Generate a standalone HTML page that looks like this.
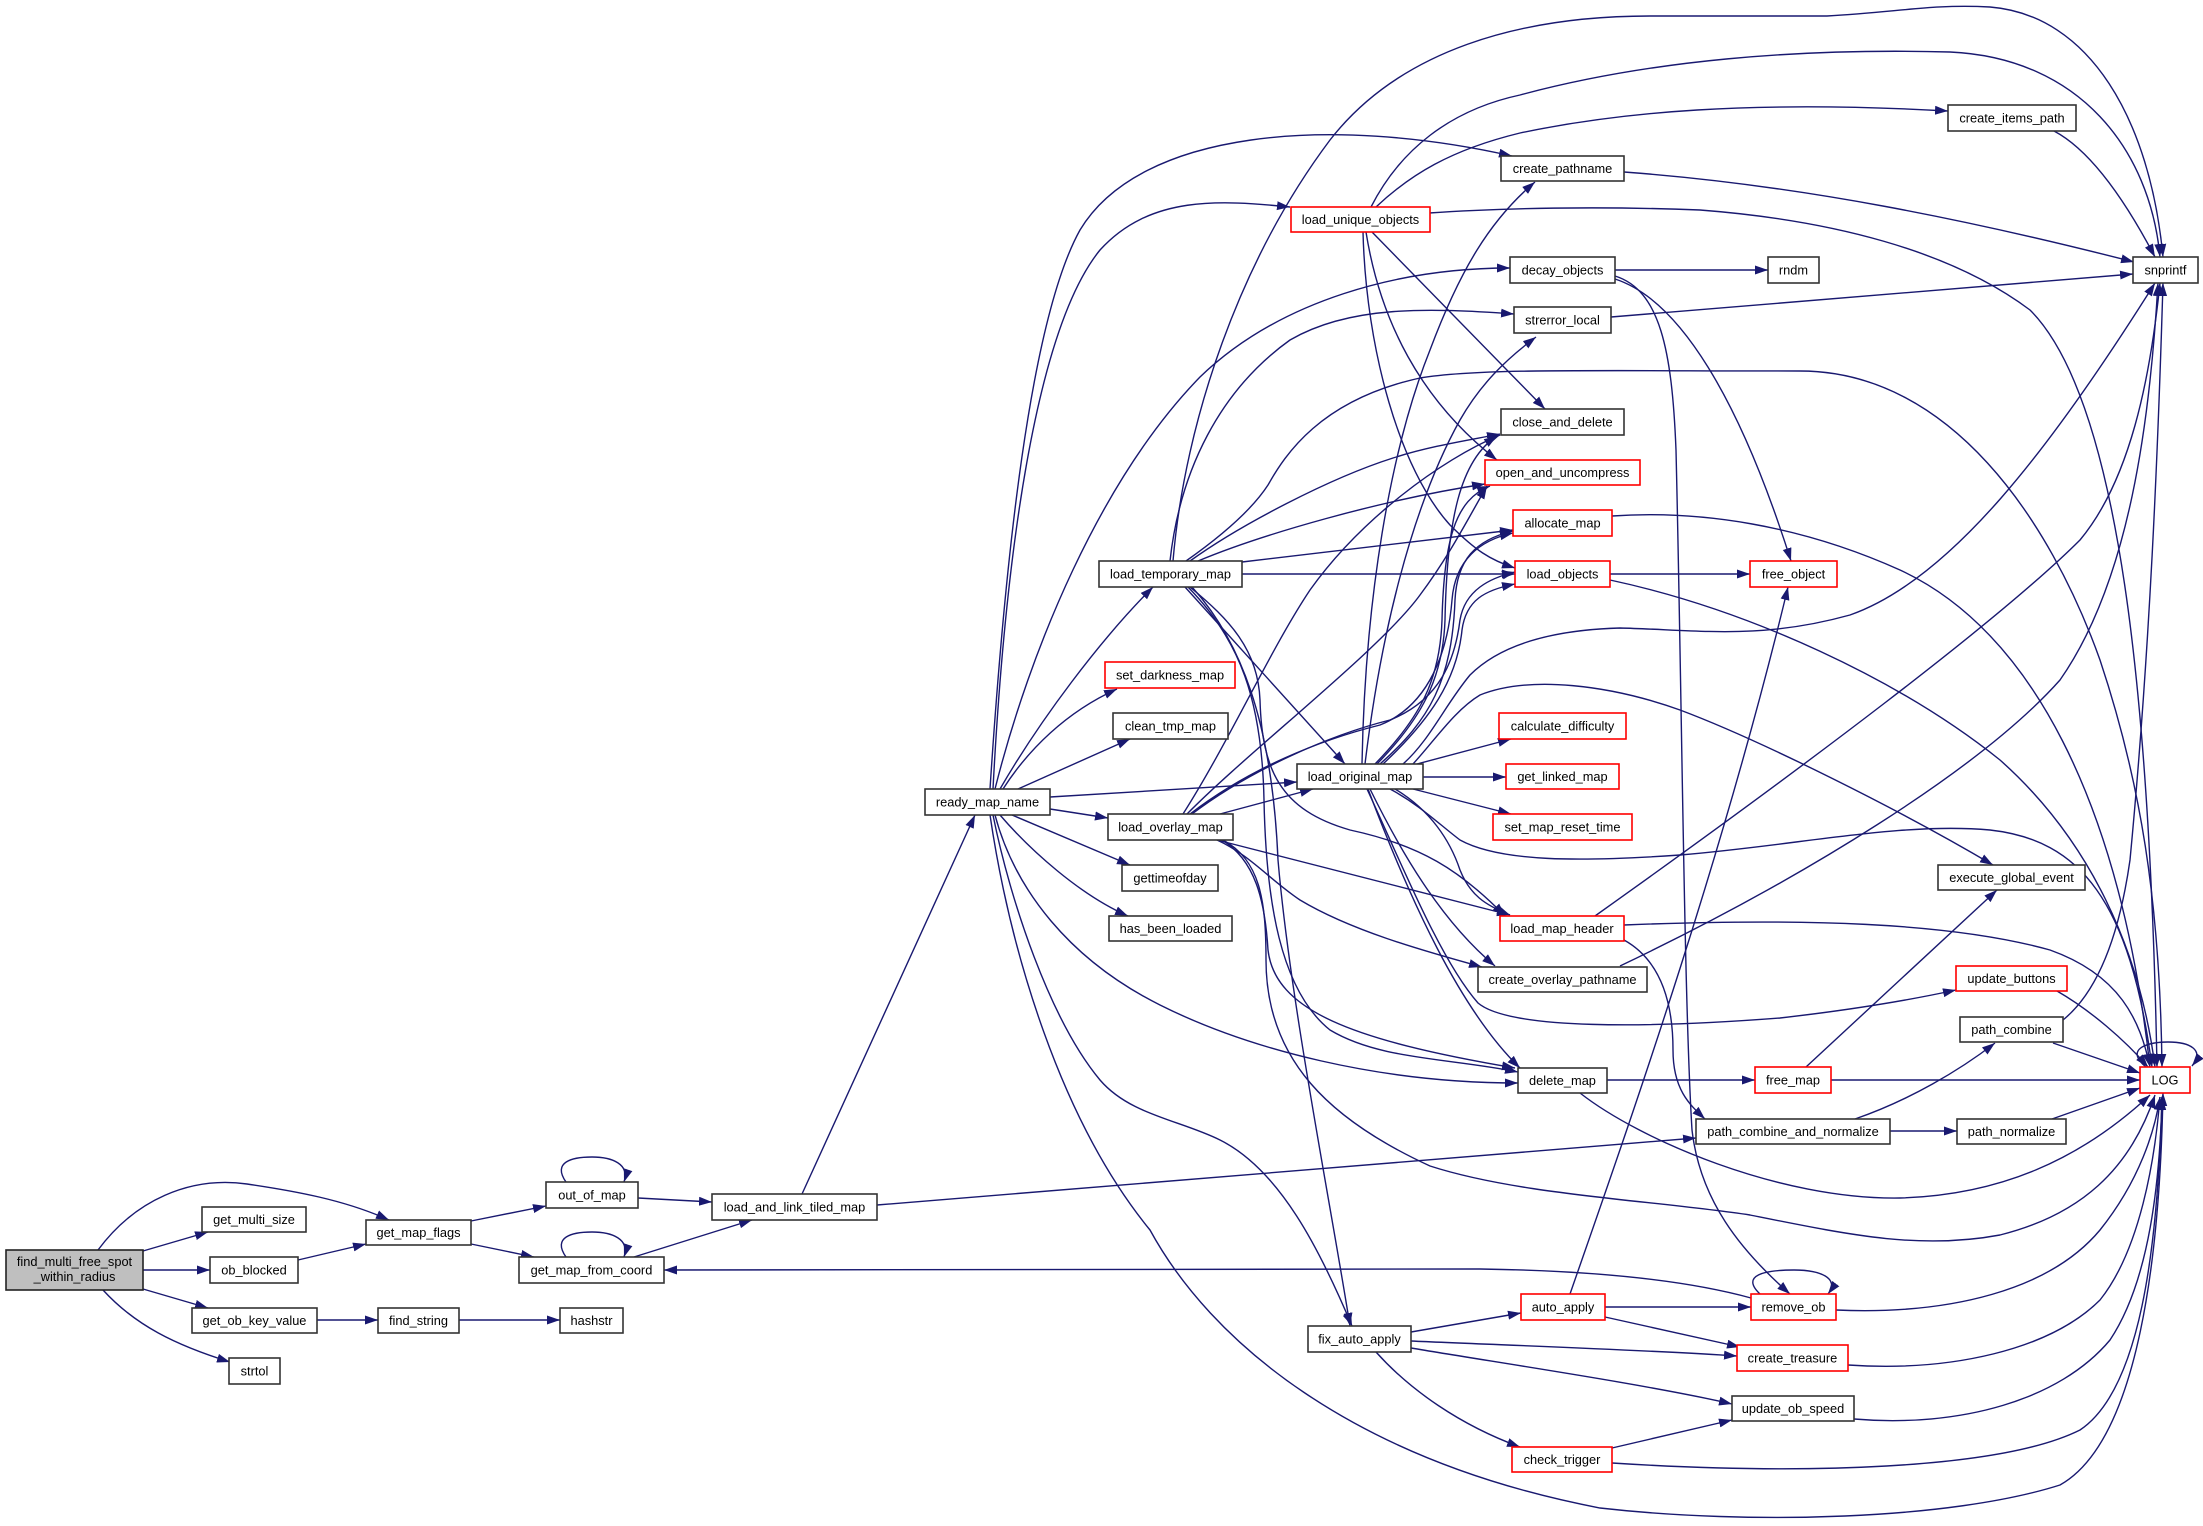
<!DOCTYPE html>
<html><head><meta charset="utf-8"><style>
html,body{margin:0;padding:0;background:#fff;}
svg{display:block;}
.e path{fill:none;stroke:#191970;stroke-width:1.4;marker-end:url(#a);}
.n rect{fill:#fff;stroke:#333;stroke-width:1.6;}
.n rect.r{stroke:#ff0000;}
.n rect.g{fill:#bfbfbf;stroke:#222;}
.n text{font-family:"Liberation Sans",Arial,sans-serif;font-size:12.8px;fill:#000;text-anchor:middle;}
</style></head><body>
<svg width="2203" height="1526" viewBox="0 0 2203 1526" xmlns="http://www.w3.org/2000/svg">
<defs><marker id="a" markerUnits="userSpaceOnUse" markerWidth="14" markerHeight="10" refX="13" refY="5" orient="auto"><path d="M0,0.5 L13,5 L0,9.5z" fill="#191970"/></marker></defs>
<rect width="2203" height="1526" fill="#fff"/>
<g class="e">
<path d="M98,1250 C135,1200 190,1176 247,1184 C295,1191 345,1200 389,1220"/>
<path d="M143,1251 L208,1232"/>
<path d="M143,1270 L210,1270"/>
<path d="M143,1289 L208,1308"/>
<path d="M103,1290 C135,1325 175,1345 230,1362"/>
<path d="M298,1260 L366,1244"/>
<path d="M317,1320 L378,1320"/>
<path d="M459,1320 L560,1320"/>
<path d="M471,1221 L546,1206"/>
<path d="M471,1244 L534,1257"/>
<path d="M566,1182 C552,1162 572,1157 592,1157 C612,1157 630,1164 624,1182"/>
<path d="M566,1257 C552,1237 572,1232 592,1232 C612,1232 630,1239 624,1257"/>
<path d="M638,1198 L712,1202"/>
<path d="M634,1257 L752,1220"/>
<path d="M802,1194 L975,815"/>
<path d="M877,1205 L1696,1138"/>
<path d="M1751,1298 C1700,1284 1620,1271 1480,1269 L664,1270"/>

<path d="M990,789 C1005,560 1030,320 1080,230 C1140,130 1330,115 1512,156"/>
<path d="M993,789 C1005,560 1035,330 1100,250 C1150,195 1220,200 1290,207"/>
<path d="M995,789 C1030,650 1100,480 1200,377 C1280,300 1400,268 1510,268"/>
<path d="M1000,789 C1040,720 1100,640 1153,587"/>
<path d="M1003,789 C1028,750 1066,712 1117,689"/>
<path d="M1018,789 L1130,739"/>
<path d="M1050,797 L1297,782"/>
<path d="M1050,809 L1108,818"/>
<path d="M1012,815 L1130,865"/>
<path d="M1000,815 C1030,850 1080,895 1128,916"/>
<path d="M995,815 C1015,890 1070,960 1160,1005 C1250,1050 1380,1083 1518,1083"/>
<path d="M993,815 C1010,900 1050,1020 1100,1080 C1130,1115 1180,1120 1220,1140 C1280,1170 1320,1250 1352,1326"/>
<path d="M990,815 C1010,950 1060,1120 1150,1230 C1210,1340 1350,1460 1600,1508 C1750,1525 1950,1520 2060,1485 C2140,1440 2160,1250 2163,1093"/>

<path d="M1173,561 C1185,420 1240,260 1330,140 C1400,50 1520,16 1650,16 L1827,16 C1900,12 1930,4 1990,7 C2090,15 2150,120 2163,257"/>
<path d="M1170,561 C1180,470 1220,390 1290,340 C1350,305 1430,308 1514,314"/>
<path d="M1186,561 C1230,530 1255,505 1268,485 C1285,455 1320,400 1420,378 C1480,368 1600,371 1800,371 C1950,371 2050,520 2100,660 C2140,780 2160,900 2162,1067"/>
<path d="M1190,561 C1240,525 1330,478 1393,458 C1430,446 1470,440 1500,434"/>
<path d="M1198,561 C1260,535 1380,500 1485,484"/>
<path d="M1242,562 L1513,530"/>
<path d="M1242,574 L1515,574"/>
<path d="M1185,587 L1345,764"/>
<path d="M1190,587 C1230,620 1258,650 1260,700 C1262,770 1280,810 1350,830 C1420,845 1460,870 1505,916"/>
<path d="M1188,587 C1240,640 1262,700 1264,800 C1266,900 1280,990 1330,1030 C1380,1060 1450,1058 1518,1072"/>
<path d="M1192,587 C1240,640 1272,720 1278,860 C1290,1000 1330,1200 1350,1326"/>

<path d="M1220,814 L1313,789"/>
<path d="M1183,814 C1230,740 1270,650 1310,590 C1360,520 1440,460 1500,435"/>
<path d="M1187,814 C1250,750 1380,650 1420,595 C1450,555 1470,515 1487,486"/>
<path d="M1192,814 C1250,770 1330,735 1390,720 C1440,700 1455,660 1460,620 C1465,590 1490,578 1515,572"/>
<path d="M1190,814 C1250,768 1320,740 1380,725 C1430,705 1448,650 1452,600 C1455,560 1480,540 1513,533"/>
<path d="M1217,840 L1510,915"/>
<path d="M1217,840 C1250,855 1270,880 1300,900 C1350,930 1420,950 1482,967"/>
<path d="M1222,840 C1255,860 1265,900 1268,950 C1275,1010 1350,1040 1515,1068"/>
<path d="M1223,840 C1260,860 1266,900 1266,960 C1266,1060 1330,1120 1430,1166 C1520,1195 1650,1200 1750,1215 C1850,1235 1920,1250 2000,1235 C2080,1215 2130,1170 2155,1095"/>

<path d="M1362,764 C1365,600 1390,450 1430,350 C1460,270 1490,220 1535,182"/>
<path d="M1365,764 C1380,640 1410,510 1460,420 C1480,385 1505,360 1536,337"/>
<path d="M1377,764 C1420,720 1443,680 1445,620 C1447,520 1460,460 1497,436"/>
<path d="M1375,764 C1420,718 1440,680 1442,620 C1444,540 1455,500 1490,486"/>
<path d="M1380,764 C1430,720 1452,680 1455,600 C1457,560 1475,540 1513,531"/>
<path d="M1383,764 C1430,720 1457,680 1462,630 C1466,600 1485,590 1515,584"/>
<path d="M1403,764 C1430,740 1445,705 1470,675 C1500,645 1550,630 1620,628 C1700,630 1760,640 1850,615 C1950,580 2050,450 2155,283"/>
<path d="M1413,764 C1435,740 1455,710 1480,695 C1530,675 1610,685 1680,710 C1760,740 1900,810 1993,865"/>
<path d="M1417,764 L1511,739"/>
<path d="M1423,777 L1506,777"/>
<path d="M1413,789 L1511,814"/>
<path d="M1390,789 C1420,805 1440,825 1460,840 C1500,862 1580,862 1680,855 C1800,845 1900,822 1990,830 C2080,840 2130,900 2152,1067"/>
<path d="M1395,789 C1430,810 1450,840 1460,870 C1470,895 1485,905 1510,915"/>
<path d="M1370,789 C1400,850 1440,920 1495,966"/>
<path d="M1367,789 C1400,860 1440,960 1478,1003 C1510,1030 1650,1028 1780,1018 C1850,1010 1910,1000 1956,990"/>
<path d="M1368,789 C1410,900 1460,1010 1520,1068"/>

<path d="M1371,207 C1400,150 1450,110 1520,95 C1650,60 1800,48 1950,52 C2080,58 2150,150 2160,257"/>
<path d="M1376,207 C1410,175 1450,150 1520,133 C1620,112 1750,100 1948,111"/>
<path d="M1429,213 C1500,208 1600,206 1700,210 C1830,220 1950,250 2030,310 C2120,400 2150,700 2157,1067"/>
<path d="M1372,232 L1545,409"/>
<path d="M1366,232 C1380,320 1420,400 1497,460"/>
<path d="M1363,232 C1366,350 1400,470 1450,525 C1475,550 1490,560 1515,568"/>

<path d="M1615,270 L1768,270"/>
<path d="M1615,276 C1660,290 1672,350 1676,450 C1682,700 1684,1000 1692,1130 C1700,1200 1740,1250 1790,1294"/>
<path d="M1615,279 C1680,300 1740,400 1791,561"/>
<path d="M1624,172 C1800,185 1970,220 2134,262"/>
<path d="M1611,317 L2133,274"/>
<path d="M2054,131 C2090,150 2125,200 2155,257"/>
<path d="M1612,516 C1700,510 1800,525 1900,570 C2030,630 2120,800 2150,1067"/>
<path d="M1610,574 L1750,574"/>
<path d="M1610,580 C1750,610 1900,680 2000,760 C2090,840 2140,950 2155,1067"/>
<path d="M1595,916 C1800,770 2000,620 2080,540 C2130,480 2150,380 2160,283"/>
<path d="M1624,925 C1800,918 1950,922 2050,950 C2120,975 2140,1020 2150,1067"/>
<path d="M1624,940 C1660,960 1673,1000 1673,1050 C1673,1090 1690,1105 1705,1119"/>
<path d="M1620,966 C1800,880 1980,770 2060,680 C2130,580 2150,420 2158,283"/>
<path d="M1607,1080 L1755,1080"/>
<path d="M1580,1093 C1640,1140 1780,1200 1900,1198 C2000,1195 2080,1160 2150,1095"/>
<path d="M1831,1080 L2140,1080"/>
<path d="M1806,1067 L1997,890"/>
<path d="M1855,1119 C1910,1100 1960,1070 1995,1043"/>
<path d="M1890,1131 L1957,1131"/>
<path d="M2053,1043 L2140,1073"/>
<path d="M2063,1020 C2100,990 2120,930 2130,860 C2150,650 2158,450 2163,283"/>
<path d="M2052,1119 L2140,1088"/>
<path d="M2057,991 C2090,1010 2125,1040 2148,1067"/>
<path d="M1411,1332 L1521,1313"/>
<path d="M1411,1341 C1500,1345 1650,1350 1737,1356"/>
<path d="M1411,1348 C1500,1363 1650,1385 1732,1404"/>
<path d="M1376,1352 C1410,1390 1460,1425 1520,1447"/>
<path d="M1570,1294 C1620,1150 1720,870 1788,587"/>
<path d="M1605,1307 L1751,1307"/>
<path d="M1605,1317 L1740,1347"/>
<path d="M1760,1294 C1740,1275 1765,1270 1794,1270 C1820,1270 1840,1278 1828,1294"/>
<path d="M1836,1310 C1950,1315 2050,1290 2100,1230 C2140,1180 2155,1130 2160,1097"/>
<path d="M1848,1365 C1950,1372 2050,1350 2100,1300 C2140,1250 2155,1160 2160,1097"/>
<path d="M1854,1419 C1960,1428 2060,1400 2110,1340 C2150,1280 2160,1180 2162,1097"/>
<path d="M1612,1448 L1732,1420"/>
<path d="M1612,1463 C1800,1475 2000,1470 2080,1430 C2140,1390 2158,1250 2162,1097"/>
<path d="M2146,1067 C2125,1050 2145,1042 2168,1042 C2190,1042 2205,1050 2192,1066"/>
</g>

<g class="n">
<rect class="g" x="6" y="1250" width="137" height="40"/><text x="74.5" y="1266">find_multi_free_spot</text><text x="74.5" y="1281">_within_radius</text>
<rect x="202" y="1207" width="104" height="25"/><text x="254" y="1224">get_multi_size</text>
<rect x="210" y="1257" width="88" height="26"/><text x="254" y="1274.5">ob_blocked</text>
<rect x="192" y="1308" width="125" height="25"/><text x="254.5" y="1325">get_ob_key_value</text>
<rect x="229" y="1358" width="51" height="26"/><text x="254.5" y="1375.5">strtol</text>
<rect x="366" y="1220" width="105" height="25"/><text x="418.5" y="1237">get_map_flags</text>
<rect x="378" y="1308" width="81" height="25"/><text x="418.5" y="1325">find_string</text>
<rect x="560" y="1308" width="63" height="25"/><text x="591.5" y="1325">hashstr</text>
<rect x="546" y="1182" width="92" height="26"/><text x="592" y="1199.5">out_of_map</text>
<rect x="519" y="1257" width="145" height="26"/><text x="591.5" y="1274.5">get_map_from_coord</text>
<rect x="712" y="1194" width="165" height="26"/><text x="794.5" y="1211.5">load_and_link_tiled_map</text>
<rect x="925" y="789" width="125" height="26"/><text x="987.5" y="806.5">ready_map_name</text>
<rect x="1099" y="561" width="143" height="26"/><text x="1170.5" y="578.5">load_temporary_map</text>
<rect class="r" x="1105" y="662" width="130" height="26"/><text x="1170" y="679.5">set_darkness_map</text>
<rect x="1113" y="713" width="115" height="26"/><text x="1170.5" y="730.5">clean_tmp_map</text>
<rect x="1108" y="814" width="125" height="26"/><text x="1170.5" y="831.5">load_overlay_map</text>
<rect x="1122" y="865" width="96" height="26"/><text x="1170" y="882.5">gettimeofday</text>
<rect x="1109" y="916" width="123" height="25"/><text x="1170.5" y="933">has_been_loaded</text>
<rect class="r" x="1291" y="207" width="139" height="25"/><text x="1360.5" y="224">load_unique_objects</text>
<rect x="1501" y="156" width="123" height="25"/><text x="1562.5" y="173">create_pathname</text>
<rect x="1510" y="257" width="105" height="26"/><text x="1562.5" y="274.5">decay_objects</text>
<rect x="1514" y="307" width="97" height="26"/><text x="1562.5" y="324.5">strerror_local</text>
<rect x="1501" y="409" width="123" height="26"/><text x="1562.5" y="426.5">close_and_delete</text>
<rect class="r" x="1485" y="460" width="155" height="25"/><text x="1562.5" y="477">open_and_uncompress</text>
<rect class="r" x="1513" y="510" width="99" height="26"/><text x="1562.5" y="527.5">allocate_map</text>
<rect class="r" x="1515" y="561" width="95" height="26"/><text x="1562.5" y="578.5">load_objects</text>
<rect x="1297" y="764" width="126" height="25"/><text x="1360" y="781">load_original_map</text>
<rect class="r" x="1499" y="713" width="127" height="26"/><text x="1562.5" y="730.5">calculate_difficulty</text>
<rect class="r" x="1506" y="764" width="113" height="25"/><text x="1562.5" y="781">get_linked_map</text>
<rect class="r" x="1493" y="814" width="139" height="26"/><text x="1562.5" y="831.5">set_map_reset_time</text>
<rect class="r" x="1500" y="916" width="124" height="25"/><text x="1562" y="933">load_map_header</text>
<rect x="1478" y="967" width="169" height="25"/><text x="1562.5" y="984">create_overlay_pathname</text>
<rect x="1518" y="1068" width="89" height="25"/><text x="1562.5" y="1085">delete_map</text>
<rect x="1696" y="1119" width="194" height="25"/><text x="1793" y="1136">path_combine_and_normalize</text>
<rect x="1308" y="1326" width="103" height="26"/><text x="1359.5" y="1343.5">fix_auto_apply</text>
<rect x="1948" y="105" width="128" height="26"/><text x="2012" y="122.5">create_items_path</text>
<rect x="1768" y="257" width="51" height="26"/><text x="1793.5" y="274.5">rndm</text>
<rect x="2133" y="257" width="65" height="26"/><text x="2165.5" y="274.5">snprintf</text>
<rect class="r" x="1750" y="561" width="87" height="26"/><text x="1793.5" y="578.5">free_object</text>
<rect x="1938" y="865" width="147" height="25"/><text x="2011.5" y="882">execute_global_event</text>
<rect class="r" x="1956" y="966" width="111" height="25"/><text x="2011.5" y="983">update_buttons</text>
<rect x="1960" y="1017" width="103" height="25"/><text x="2011.5" y="1034">path_combine</text>
<rect class="r" x="2140" y="1067" width="50" height="26"/><text x="2165" y="1084.5">LOG</text>
<rect class="r" x="1755" y="1067" width="76" height="26"/><text x="1793" y="1084.5">free_map</text>
<rect x="1957" y="1119" width="109" height="25"/><text x="2011.5" y="1136">path_normalize</text>
<rect class="r" x="1751" y="1294" width="85" height="26"/><text x="1793.5" y="1311.5">remove_ob</text>
<rect class="r" x="1521" y="1294" width="84" height="26"/><text x="1563" y="1311.5">auto_apply</text>
<rect class="r" x="1737" y="1345" width="111" height="26"/><text x="1792.5" y="1362.5">create_treasure</text>
<rect x="1732" y="1396" width="122" height="25"/><text x="1793" y="1413">update_ob_speed</text>
<rect class="r" x="1512" y="1447" width="100" height="25"/><text x="1562" y="1464">check_trigger</text>
</g>
</svg>
</body></html>
